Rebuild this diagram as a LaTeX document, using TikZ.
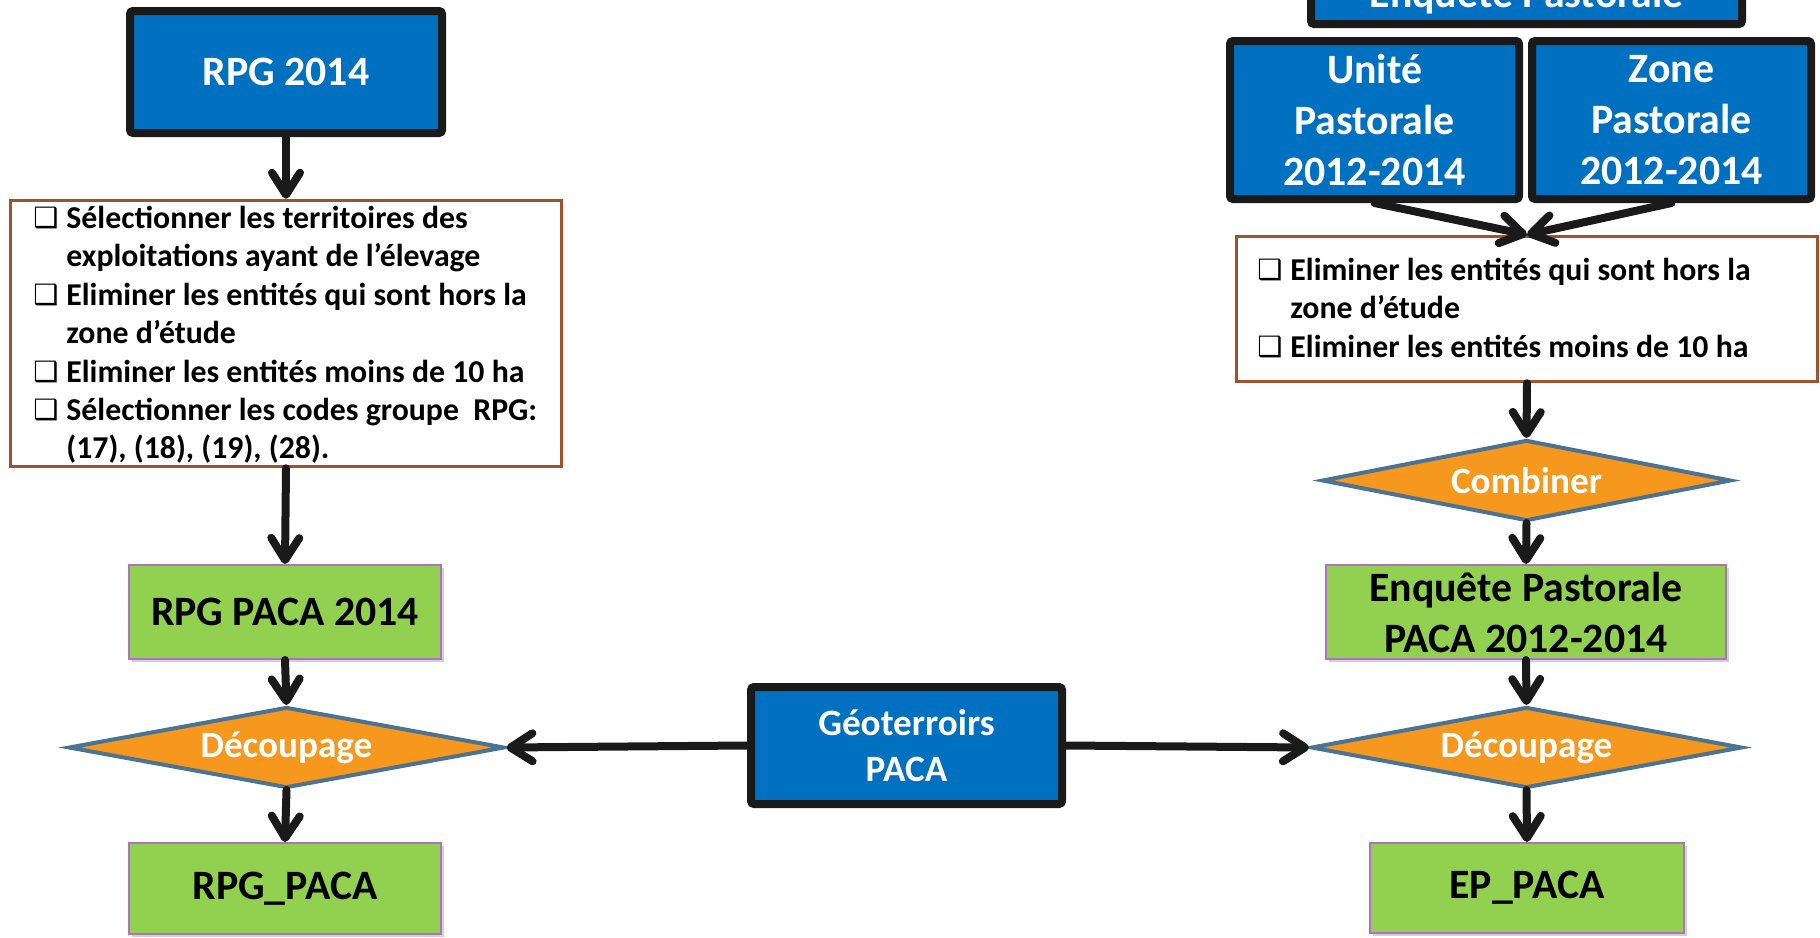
\documentclass[tikz,border=0pt]{standalone}
\usepackage{fontspec}
\setmainfont{Carlito}
\newfontfamily\symfont{DejaVu Sans}
\usetikzlibrary{arrows.meta,shapes.geometric,shadows}
\definecolor{pblue}{HTML}{0070C0}
\definecolor{pgreen}{HTML}{92D050}
\definecolor{porange}{HTML}{F7981E}
\definecolor{pbrown}{HTML}{A0522D}
\definecolor{ppurple}{HTML}{B070C8}
\definecolor{pslate}{HTML}{4A7394}
\definecolor{pblack}{HTML}{1A1A1A}
\newcommand\chkbox{\makebox[16.5pt][l]{\raisebox{0.5pt}{\symfont\fontsize{14}{14}\selectfont ❑}}}
\begin{document}
\begin{tikzpicture}[x=0.5pt,y=-0.5pt,
  titlefont/.style={font=\bfseries\fontsize{20.9}{25.5}\selectfont},
  diafont/.style={font=\bfseries\fontsize{18.6}{22.6}\selectfont},
  bodyfont/.style={font=\bfseries\fontsize{15.9}{19.2}\selectfont},
  bluebox/.style={draw=pblack, line width=4pt, fill=pblue, text=white, align=center, inner sep=0pt, rounded corners=1.5pt},
  greenbox/.style={draw=ppurple, line width=1pt, fill=pgreen, text=black, align=center, inner sep=0pt, titlefont,
     drop shadow={shadow xshift=1.5pt, shadow yshift=-1.5pt, opacity=0.3, fill=black!60}},
  notebox/.style={draw=pbrown, line width=1.75pt, fill=white, inner sep=0pt},
  decision/.style={diamond, aspect=5, draw=pslate, line width=2pt, fill=porange, text=white, inner sep=0pt, diafont},
  bodytext/.style={anchor=west, inner sep=0pt, align=left, bodyfont},
  arr/.style={draw=pblack, line width=4pt, line cap=round,
     -{Straight Barb[length=11pt,width=14pt,line cap=round,line join=round]}}
]
\useasboundingbox (0,0) rectangle (1820,937);
\clip (0,0) rectangle (1820,937);

% left column
\node[bluebox, titlefont, minimum width=156pt, minimum height=61pt] (rpg14) at (286,72) {RPG 2014};
\node[notebox, minimum width=275.5pt, minimum height=133pt] (box1) at (286,333.5) {};
\node[bodytext] (t1) at (33,336) {\begin{tabular}{@{}l@{}l@{}}
\chkbox & Sélectionner les territoires des\\
 & exploitations ayant de l’élevage\\
\chkbox & Eliminer les entités qui sont hors la\\
 & zone d’étude\\
\chkbox & Eliminer les entités moins de 10 ha\\
\chkbox & Sélectionner les codes groupe\ \ RPG:\\
 & (17), (18), (19), (28).
\end{tabular}};
\node[greenbox, minimum width=156pt, minimum height=47pt] (rpgpaca) at (285,612) {RPG PACA 2014};
\node[decision, minimum width=218pt, minimum height=40.5pt] (dec1) at (286.5,747.5) {Découpage};
\node[greenbox, minimum width=156pt, minimum height=45.5pt] (rpgp) at (285,888.5) {RPG\_PACA};

% middle
\node[bluebox, diafont, minimum width=155.5pt, minimum height=58.5pt] (geo) at (906.5,745.5) {Géoterroirs\\PACA};

% right column
\node[bluebox, minimum width=215.5pt, minimum height=40pt] (ep) at (1526.5,-16) {};
\node[titlefont, text=white, inner sep=0pt] (eptxt) at (1526.5,-4) {Enquête Pastorale};
\node[bluebox, titlefont, minimum width=144.5pt, minimum height=79pt] (unite) at (1374.5,120) {Unité\\Pastorale\\2012-2014};
\node[bluebox, titlefont, minimum width=139.5pt, minimum height=79pt] (zone) at (1671.5,120) {Zone\\Pastorale\\2012-2014};
\node[notebox, minimum width=290.5pt, minimum height=72.5pt] (box2) at (1527,309) {};
\node[bodytext] (t2) at (1257,311) {\begin{tabular}{@{}l@{}l@{}}
\chkbox & Eliminer les entités qui sont hors la\\
 & zone d’étude\\
\chkbox & Eliminer les entités moins de 10 ha
\end{tabular}};
\node[decision, minimum width=204.5pt, minimum height=40.5pt] (comb) at (1526.5,480.5) {Combiner};
\node[greenbox, minimum width=200pt, minimum height=47pt] (eppaca) at (1526,612) {Enquête Pastorale\\PACA 2012-2014};
\node[decision, minimum width=215.5pt, minimum height=40.5pt] (dec2) at (1526.5,747.5) {Découpage};
\node[greenbox, minimum width=157pt, minimum height=45pt] (epp) at (1527,888) {EP\_PACA};

% connectors
\draw[arr] (rpg14.south) -- (box1.north);
\draw[arr] (box1.south) -- (rpgpaca.north);
\draw[arr] (rpgpaca.south) -- (dec1.north);
\draw[arr] (dec1.south) -- (rpgp.north);
\draw[arr] (geo.west) -- (dec1.east);
\draw[arr] (geo.east) -- (dec2.west);
\draw[arr] (unite.south) -- (box2.north);
\draw[arr] (zone.south) -- (box2.north);
\draw[arr] (box2.south) -- (comb.north);
\draw[arr] (comb.south) -- (eppaca.north);
\draw[arr] (eppaca.south) -- (dec2.north);
\draw[arr] (dec2.south) -- (epp.north);
\end{tikzpicture}
\end{document}
